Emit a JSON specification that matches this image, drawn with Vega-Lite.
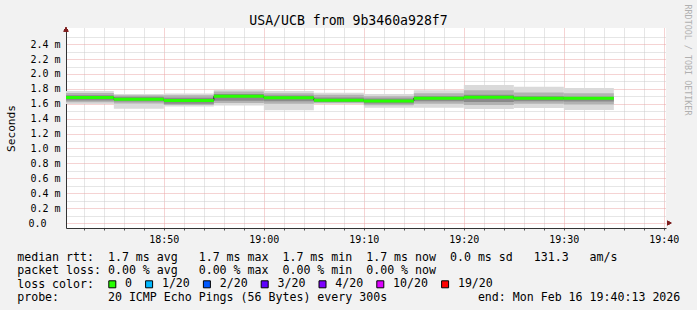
{
  "$schema": "https://vega.github.io/schema/vega-lite/v6.json",
  "width": 600,
  "height": 200,
  "autosize": {"type": "none"},
  "padding": {"left": 66, "top": 28, "right": 31, "bottom": 82},
  "background": "#f2f2f2",
  "config": {
    "font": "DejaVu Sans Mono",
    "view": {"fill": "white", "stroke": null}
  },
  "data": {
    "values": [
      {"t": "2026-02-16T18:40:00", "t2": "2026-02-16T18:45:00", "lo": 1.598, "q1": 1.62, "i1": 1.645, "med": 1.684, "i3": 1.715, "q3": 1.745, "hi": 1.773, "loss": "0"},
      {"t": "2026-02-16T18:45:00", "t2": "2026-02-16T18:50:00", "lo": 1.534, "q1": 1.605, "i1": 1.63, "med": 1.662, "i3": 1.695, "q3": 1.715, "hi": 1.731, "loss": "0"},
      {"t": "2026-02-16T18:50:00", "t2": "2026-02-16T18:55:00", "lo": 1.563, "q1": 1.585, "i1": 1.6, "med": 1.645, "i3": 1.68, "q3": 1.715, "hi": 1.739, "loss": "0"},
      {"t": "2026-02-16T18:55:00", "t2": "2026-02-16T19:00:00", "lo": 1.578, "q1": 1.61, "i1": 1.64, "med": 1.7, "i3": 1.73, "q3": 1.765, "hi": 1.79, "loss": "0"},
      {"t": "2026-02-16T19:00:00", "t2": "2026-02-16T19:05:00", "lo": 1.514, "q1": 1.6, "i1": 1.635, "med": 1.68, "i3": 1.71, "q3": 1.74, "hi": 1.773, "loss": "0"},
      {"t": "2026-02-16T19:05:00", "t2": "2026-02-16T19:10:00", "lo": 1.598, "q1": 1.61, "i1": 1.625, "med": 1.649, "i3": 1.685, "q3": 1.72, "hi": 1.747, "loss": "0"},
      {"t": "2026-02-16T19:10:00", "t2": "2026-02-16T19:15:00", "lo": 1.547, "q1": 1.58, "i1": 1.605, "med": 1.639, "i3": 1.67, "q3": 1.7, "hi": 1.731, "loss": "0"},
      {"t": "2026-02-16T19:15:00", "t2": "2026-02-16T19:20:00", "lo": 1.547, "q1": 1.6, "i1": 1.635, "med": 1.675, "i3": 1.7, "q3": 1.74, "hi": 1.782, "loss": "0"},
      {"t": "2026-02-16T19:20:00", "t2": "2026-02-16T19:25:00", "lo": 1.531, "q1": 1.585, "i1": 1.625, "med": 1.687, "i3": 1.72, "q3": 1.78, "hi": 1.853, "loss": "0"},
      {"t": "2026-02-16T19:25:00", "t2": "2026-02-16T19:30:00", "lo": 1.543, "q1": 1.6, "i1": 1.635, "med": 1.675, "i3": 1.7, "q3": 1.75, "hi": 1.83, "loss": "0"},
      {"t": "2026-02-16T19:30:00", "t2": "2026-02-16T19:35:00", "lo": 1.518, "q1": 1.59, "i1": 1.63, "med": 1.675, "i3": 1.695, "q3": 1.74, "hi": 1.811, "loss": "0"}
    ]
  },
  "resolve": {"axis": {"x": "independent", "y": "independent"}},
  "layer": [
    {
      "mark": {"type": "rect", "color": "#dadada", "clip": true},
      "encoding": {
        "x": {
          "field": "t", "type": "temporal",
          "scale": {"domain": [{"year": 2026, "month": 2, "date": 16, "hours": 18, "minutes": 40, "seconds": 13}, {"year": 2026, "month": 2, "date": 16, "hours": 19, "minutes": 40, "seconds": 13}], "nice": false},
          "axis": {
            "orient": "bottom",
            "values": [
              {"year": 2026, "month": 2, "date": 16, "hours": 18, "minutes": 42},
              {"year": 2026, "month": 2, "date": 16, "hours": 18, "minutes": 44},
              {"year": 2026, "month": 2, "date": 16, "hours": 18, "minutes": 46},
              {"year": 2026, "month": 2, "date": 16, "hours": 18, "minutes": 48},
              {"year": 2026, "month": 2, "date": 16, "hours": 18, "minutes": 50},
              {"year": 2026, "month": 2, "date": 16, "hours": 18, "minutes": 52},
              {"year": 2026, "month": 2, "date": 16, "hours": 18, "minutes": 54},
              {"year": 2026, "month": 2, "date": 16, "hours": 18, "minutes": 56},
              {"year": 2026, "month": 2, "date": 16, "hours": 18, "minutes": 58},
              {"year": 2026, "month": 2, "date": 16, "hours": 19, "minutes": 0},
              {"year": 2026, "month": 2, "date": 16, "hours": 19, "minutes": 2},
              {"year": 2026, "month": 2, "date": 16, "hours": 19, "minutes": 4},
              {"year": 2026, "month": 2, "date": 16, "hours": 19, "minutes": 6},
              {"year": 2026, "month": 2, "date": 16, "hours": 19, "minutes": 8},
              {"year": 2026, "month": 2, "date": 16, "hours": 19, "minutes": 10},
              {"year": 2026, "month": 2, "date": 16, "hours": 19, "minutes": 12},
              {"year": 2026, "month": 2, "date": 16, "hours": 19, "minutes": 14},
              {"year": 2026, "month": 2, "date": 16, "hours": 19, "minutes": 16},
              {"year": 2026, "month": 2, "date": 16, "hours": 19, "minutes": 18},
              {"year": 2026, "month": 2, "date": 16, "hours": 19, "minutes": 20},
              {"year": 2026, "month": 2, "date": 16, "hours": 19, "minutes": 22},
              {"year": 2026, "month": 2, "date": 16, "hours": 19, "minutes": 24},
              {"year": 2026, "month": 2, "date": 16, "hours": 19, "minutes": 26},
              {"year": 2026, "month": 2, "date": 16, "hours": 19, "minutes": 28},
              {"year": 2026, "month": 2, "date": 16, "hours": 19, "minutes": 30},
              {"year": 2026, "month": 2, "date": 16, "hours": 19, "minutes": 32},
              {"year": 2026, "month": 2, "date": 16, "hours": 19, "minutes": 34},
              {"year": 2026, "month": 2, "date": 16, "hours": 19, "minutes": 36},
              {"year": 2026, "month": 2, "date": 16, "hours": 19, "minutes": 38},
              {"year": 2026, "month": 2, "date": 16, "hours": 19, "minutes": 40}
            ],
            "labelExpr": "minutes(datum.value) % 10 === 0 ? timeFormat(datum.value, '%H:%M') : ''",
            "labelFont": "DejaVu Sans Mono", "labelFontSize": 10, "labelColor": "#000",
            "labelPadding": 4, "labelFlush": false, "labelOverlap": false,
            "ticks": true, "tickSize": 2, "tickColor": "#555",
            "domain": true, "domainColor": "#333",
            "grid": true, "gridDash": [1, 1],
            "gridColor": {"condition": {"test": "minutes(datum.value) % 10 === 0", "value": "#eba7a7"}, "value": "#cdcdcd"},
            "title": [
              "median rtt:\u00a0\u00a01.7\u00a0ms\u00a0avg\u00a0\u00a0\u00a01.7\u00a0ms\u00a0max\u00a0\u00a01.7\u00a0ms\u00a0min\u00a0\u00a01.7\u00a0ms\u00a0now\u00a0\u00a00.0\u00a0ms\u00a0sd\u00a0\u00a0\u00a0131.3\u00a0\u00a0\u00a0am/s",
              "packet\u00a0loss:\u00a00.00\u00a0%\u00a0avg\u00a0\u00a0\u00a00.00\u00a0%\u00a0max\u00a0\u00a00.00\u00a0%\u00a0min\u00a0\u00a00.00\u00a0%\u00a0now"
            ],
            "titleX": -49.3, "titleY": 32,
            "titleAlign": "left", "titleAnchor": "start", "titleBaseline": "alphabetic",
            "titleFont": "DejaVu Sans Mono", "titleFontSize": 11.6, "titleFontWeight": "normal",
            "titleColor": "#000", "titleLineHeight": 13.6
          }
        },
        "x2": {"field": "t2"},
        "y": {
          "field": "lo", "type": "quantitative",
          "scale": {"domain": [0, 2.55], "nice": false, "zero": false},
          "axis": {
            "orient": "left",
            "values": [0, 0.1, 0.2, 0.3, 0.4, 0.5, 0.6, 0.7, 0.8, 0.9, 1.0, 1.1, 1.2, 1.3, 1.4, 1.5, 1.6, 1.7, 1.8, 1.9, 2.0, 2.1, 2.2, 2.3, 2.4, 2.5],
            "labelExpr": "datum.value < 0.05 ? '0.0' : (round(datum.value * 10) % 2 === 0 ? format(datum.value, '.1f') + '\u00a0m' : '')",
            "labelFont": "DejaVu Sans Mono", "labelFontSize": 10, "labelColor": "#000",
            "labelPadding": {"condition": {"test": "datum.value < 0.05", "value": 20}, "value": 6},
            "labelOverlap": false,
            "ticks": false,
            "domain": true, "domainColor": "#333",
            "grid": true, "gridDash": [1, 1],
            "gridColor": {"condition": {"test": "round(datum.value * 10) % 2 === 0", "value": "#eba7a7"}, "value": "#cdcdcd"},
            "title": "Seconds",
            "titleX": -55, "titleY": 100, "titleAngle": 270,
            "titleAlign": "center", "titleBaseline": "middle",
            "titleFont": "DejaVu Sans Mono", "titleFontSize": 11.2, "titleFontWeight": "normal", "titleColor": "#000"
          }
        },
        "y2": {"field": "hi"}
      }
    },
    {
      "mark": {"type": "rect", "color": "#b2b2b2", "clip": true},
      "encoding": {
        "x": {
          "field": "t", "type": "temporal",
          "axis": {
            "orient": "bottom", "domain": false, "ticks": false, "labels": false, "grid": false,
            "title": "loss\u00a0color:",
            "titleX": -49.3, "titleY": 59.2, "titleAlign": "left", "titleAnchor": "start", "titleBaseline": "alphabetic",
            "titleFont": "DejaVu Sans Mono", "titleFontSize": 11.6, "titleFontWeight": "normal", "titleColor": "#000"
          }
        },
        "x2": {"field": "t2"},
        "y": {"field": "q1", "type": "quantitative", "axis": null},
        "y2": {"field": "q3"}
      }
    },
    {
      "mark": {"type": "rect", "color": "#8a8a8a", "clip": true},
      "encoding": {
        "x": {
          "field": "t", "type": "temporal",
          "axis": {
            "orient": "bottom", "domain": false, "ticks": false, "labels": false, "grid": false,
            "title": "probe:\u00a0\u00a0\u00a0\u00a0\u00a0\u00a0\u00a020\u00a0ICMP\u00a0Echo\u00a0Pings\u00a0(56\u00a0Bytes)\u00a0every\u00a0300s\u00a0\u00a0\u00a0\u00a0\u00a0\u00a0\u00a0\u00a0\u00a0\u00a0\u00a0\u00a0\u00a0end:\u00a0Mon\u00a0Feb\u00a016\u00a019:40:13\u00a02026",
            "titleX": -49.3, "titleY": 72.7, "titleAlign": "left", "titleAnchor": "start", "titleBaseline": "alphabetic",
            "titleFont": "DejaVu Sans Mono", "titleFontSize": 11.6, "titleFontWeight": "normal", "titleColor": "#000"
          }
        },
        "x2": {"field": "t2"},
        "y": {"field": "i1", "type": "quantitative", "axis": null},
        "y2": {"field": "i3"}
      }
    },
    {
      "mark": {"type": "line", "interpolate": "step-after", "color": "#222", "strokeWidth": 1, "clip": true},
      "encoding": {
        "x": {"field": "t", "type": "temporal", "axis": null},
        "y": {"field": "med", "type": "quantitative", "axis": null}
      }
    },
    {
      "mark": {"type": "bar", "orient": "horizontal", "height": 3, "clip": true},
      "encoding": {
        "x": {"field": "t", "type": "temporal", "axis": null},
        "x2": {"field": "t2"},
        "y": {"field": "med", "type": "quantitative", "axis": null},
        "color": {
          "field": "loss", "type": "nominal",
          "scale": {"domain": ["0", "1/20", "2/20", "3/20", "4/20", "10/20", "19/20"], "range": ["#26ff00", "#00b8ff", "#0059ff", "#5e00ff", "#7e00ff", "#dd00ff", "#ff0000"]},
          "legend": {
            "orient": "none", "legendX": 40.5, "legendY": 250.5,
            "direction": "horizontal", "columns": 7, "gridAlign": "none",
            "title": null, "padding": 0,
            "symbolType": "square", "symbolSize": 49, "symbolStrokeColor": "#000", "symbolStrokeWidth": 1, "symbolOpacity": 1,
            "labelFont": "DejaVu Sans Mono", "labelFontSize": 11.6, "labelColor": "#000",
            "labelOffset": 7, "columnPadding": 10.8, "labelLimit": 0
          }
        }
      }
    },
    {
      "mark": {"type": "point", "shape": "triangle-right", "filled": true, "color": "#7f1f1f", "size": 22, "opacity": 1},
      "encoding": {
        "x": {"datum": {"year": 2026, "month": 2, "date": 16, "hours": 19, "minutes": 40, "seconds": 33}, "type": "temporal", "axis": null},
        "y": {"datum": 0, "type": "quantitative", "axis": null}
      }
    },
    {
      "mark": {"type": "point", "shape": "triangle-up", "filled": true, "color": "#7f1f1f", "size": 22, "opacity": 1},
      "encoding": {
        "x": {
          "datum": {"year": 2026, "month": 2, "date": 16, "hours": 18, "minutes": 40, "seconds": 13}, "type": "temporal",
          "axis": {
            "orient": "top", "domain": false, "ticks": false, "labels": false, "grid": false,
            "title": "USA/UCB from 9b3460a928f7",
            "titleX": 282, "titleY": -4, "titleAlign": "center", "titleBaseline": "alphabetic",
            "titleFont": "DejaVu Sans Mono", "titleFontSize": 13.2, "titleFontWeight": "normal", "titleColor": "#000"
          }
        },
        "y": {
          "datum": 2.6, "type": "quantitative",
          "axis": {
            "orient": "right", "domain": false, "ticks": false, "labels": false, "grid": false,
            "title": "RRDTOOL / TOBI OETIKER",
            "titleX": 21, "titleY": 31.5, "titleAngle": 90, "titleAlign": "center", "titleBaseline": "middle",
            "titleFont": "DejaVu Sans Mono", "titleFontSize": 8.4, "titleFontWeight": "normal", "titleColor": "#b0b0b0"
          }
        }
      }
    }
  ]
}
